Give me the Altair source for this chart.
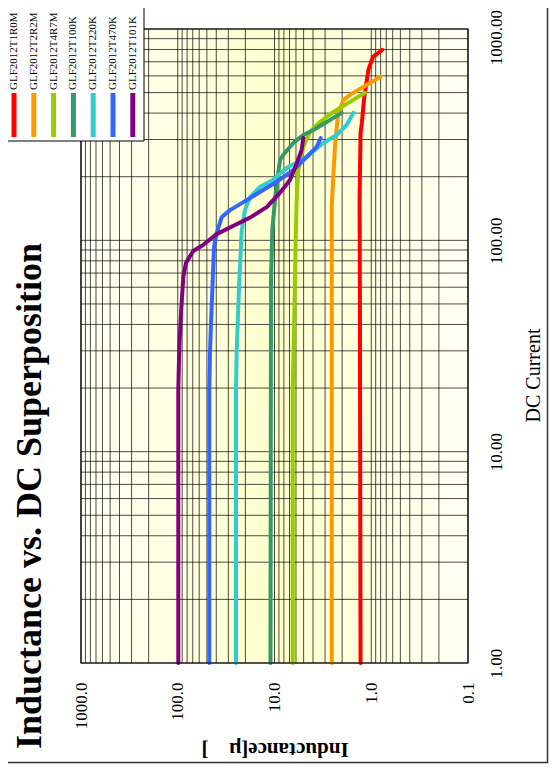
import altair as alt
import pandas as pd

# ---------------- data ----------------
series = ["GLF2012T1R0M", "GLF2012T2R2M", "GLF2012T4R7M", "GLF2012T100K",
          "GLF2012T220K", "GLF2012T470K", "GLF2012T101K"]
colors = ["#FF0000", "#FF9900", "#99CC00", "#339966", "#33CCCC", "#3366FF", "#800080"]

# DC current / inductance pairs
red_I = [1, 52.3, 155, 322, 359, 462, 544, 640, 738, 797]
red_L = [1.29, 1.31, 1.32, 1.29, 1.25, 1.19, 1.13, 1.07, 0.96, 0.77]

orange_I = [1, 144, 200, 277, 322, 401, 462, 488, 532, 593]
orange_L = [2.56, 2.56, 2.47, 2.37, 2.31, 2.19, 1.94, 1.66, 1.21, 0.81]

yg_I = [1, 19.6, 37.7, 64.9, 121, 155, 215, 277, 326, 363, 405, 452, 499]
yg_L = [6.48, 6.48, 6.29, 6.14, 5.99, 5.90, 5.68, 5.04, 4.30, 3.39, 2.47, 1.66, 1.16]

green_I = [1, 64.9, 112, 155, 193, 240, 254, 289, 315, 333, 363, 401]
green_L = [11.0, 10.87, 10.54, 9.88, 9.35, 8.77, 8.11, 6.39, 5.04, 3.97, 2.89, 2.02]

cyan_I = [1, 19.6, 29.6, 45.3, 64.9, 112, 139, 160, 179, 193, 220, 248, 289, 315, 352, 401]
cyan_L = [25.0, 25.0, 24.6, 23.8, 23.1, 21.8, 20.2, 17.9, 14.1, 10.4, 7.48, 4.65, 3.13, 2.28, 1.79, 1.53]

blue_I = [1, 19.6, 29.6, 40.6, 64.9, 93.1, 108, 129, 139, 155, 173, 191, 215, 248, 277, 305]
blue_L = [47.2, 47.2, 46.4, 45.3, 43.5, 42.2, 39.6, 35.1, 28.8, 19.4, 13.1, 9.2, 6.39, 4.65, 3.66, 3.33]

purple_I = [1, 19.6, 31.3, 45.3, 67.1, 78.2, 89.1, 95.1, 107, 117, 128, 144, 168, 193, 233, 268, 305]
purple_L = [98.7, 98.7, 96.4, 92.5, 87.6, 82.2, 69.1, 54.8, 39.6, 26.9, 17.9, 11.95, 8.77, 6.92, 5.85, 5.24, 5.04]

curves_I = [red_I, orange_I, yg_I, green_I, cyan_I, blue_I, purple_I]
curves_L = [red_L, orange_L, yg_L, green_L, cyan_L, blue_L, purple_L]

L_decades = [0.1, 1, 10, 100, 1000]     # inductance axis labels
I_decades = [1, 10, 100, 1000]          # DC current axis labels

title_text = "Inductance vs. DC Superposition"

# ---------------- tables ----------------
rows = []
for name, Is, Ls in zip(series, curves_I, curves_L):
    for k, (i_val, l_val) in enumerate(zip(Is, Ls)):
        rows.append({"series": name, "I": i_val, "L": l_val, "idx": k})
df = pd.DataFrame(rows)


def minor_ticks(decades):
    vals = []
    for d in decades[:-1]:
        for m in range(1, 10):
            vals.append(round(m * d, 6))
    vals.append(decades[-1])
    return vals


L_ticks = minor_ticks(L_decades)
I_ticks = minor_ticks(I_decades)
df_Lt = pd.DataFrame({"L": L_ticks})
df_It = pd.DataFrame({"I": I_ticks})
df_leg = pd.DataFrame({"series": series, "i": list(range(len(series)))})
one = pd.DataFrame({"t": [title_text]})

# ---------------- layout ----------------
W, H = 387, 634
FONT = "Liberation Serif"

xscale = alt.Scale(type="log", domain=[0.1, 1000], reverse=True, nice=False)
yscale = alt.Scale(type="log", domain=[1, 1000], nice=False)
cscale = alt.Scale(domain=series, range=colors)

L_list = "[" + ",".join(str(v) for v in L_decades) + "]"
I_list = "[" + ",".join(str(v) for v in I_decades) + "]"

xaxis = alt.Axis(
    values=L_ticks,
    labelExpr=f"indexof({L_list}, datum.value) >= 0 ? format(datum.value, '.1f') : ''",
    grid=False, ticks=False, tickSize=0, domain=False,
    labelAngle=270, labelAlign="right", labelBaseline="middle", labelPadding=19,
    labelFont=FONT, labelFontSize=17, labelColor="black",
    labelOverlap=False, labelFlush=False, labelBound=False,
    title="Inductance[μ\u2002\u2002]", titleFont=FONT, titleFontSize=21,
    titleFontWeight="bold", titleColor="black", titleAngle=180,
    titleX=W / 2, titleY=85, titleAlign="center", titleBaseline="middle",
)
yaxis = alt.Axis(
    orient="right",
    values=I_ticks,
    labelExpr=f"indexof({I_list}, datum.value) >= 0 ? format(datum.value, '.2f') : ''",
    grid=False, ticks=False, tickSize=0, domain=False,
    labelAngle=270, labelAlign="center", labelBaseline="top", labelPadding=20,
    labelOffset={"condition": {"test": "datum.value == 1000", "value": 8}, "value": 0},
    labelFont=FONT, labelFontSize=17, labelColor="black",
    labelOverlap=False, labelFlush=False, labelBound=False,
    title="DC Current", titleFont=FONT, titleFontSize=20, titleFontWeight="normal",
    titleColor="black", titleAngle=270, titleX=65, titleY=346,
    titleAlign="center", titleBaseline="middle",
)

background = alt.Chart(one).mark_rect(
    fill=alt.Gradient(
        gradient="linear", x1=0, x2=1, y1=0, y2=0,
        stops=[alt.GradientStop(color="#FFFFF6", offset=0),
               alt.GradientStop(color="#FFFFCC", offset=0.52),
               alt.GradientStop(color="#FFFFF6", offset=1)],
    )
).encode(x=alt.value(0), x2=alt.value(W), y=alt.value(0), y2=alt.value(H))

grid_x = alt.Chart(df_Lt).mark_rule(color="black", strokeWidth=1, opacity=0.7).encode(
    x=alt.X("L:Q", scale=xscale, axis=xaxis)
)
grid_y = alt.Chart(df_It).mark_rule(color="black", strokeWidth=1, opacity=0.7).encode(
    y=alt.Y("I:Q", scale=yscale, axis=yaxis)
)

lines = alt.Chart(df).mark_line(strokeWidth=4, strokeJoin="round", strokeCap="round").encode(
    x=alt.X("L:Q", scale=xscale, axis=xaxis),
    y=alt.Y("I:Q", scale=yscale, axis=yaxis),
    color=alt.Color("series:N", scale=cscale, legend=None),
    order=alt.Order("idx:Q"),
)

frame = alt.Chart(one).mark_rect(fillOpacity=0, stroke="black", strokeWidth=1.2).encode(
    x=alt.value(0), x2=alt.value(W), y=alt.value(0), y2=alt.value(H)
)

LEG_X = "-67 + datum.i * 19.8"
legend_box = alt.Chart(one).mark_rect(fill="white", stroke="black", strokeWidth=1).encode(
    x=alt.value(-90), x2=alt.value(63), y=alt.value(-40), y2=alt.value(112)
)
legend_rules = alt.Chart(df_leg).transform_calculate(px=LEG_X).mark_rule(strokeWidth=5).encode(
    x=alt.X("px:Q", scale=None),
    y=alt.value(64), y2=alt.value(108),
    color=alt.Color("series:N", scale=cscale, legend=None),
)
legend_text = alt.Chart(df_leg).transform_calculate(px=LEG_X).mark_text(
    angle=270, align="left", baseline="middle", font=FONT, fontSize=11, color="black"
).encode(
    x=alt.X("px:Q", scale=None),
    y=alt.value(61),
    text="series:N",
)

outer = alt.Chart(one).mark_rect(fillOpacity=0, stroke="#333333", strokeWidth=1.5).encode(
    x=alt.value(-90), x2=alt.value(466.5), y=alt.value(-40), y2=alt.value(733.5)
)

title = alt.Chart(one).mark_text(
    angle=270, align="center", baseline="alphabetic", font=FONT,
    fontSize=36, fontWeight="bold", color="black"
).encode(text="t:N", x=alt.value(-40), y=alt.value(467))

chart = alt.layer(
    background, grid_x, grid_y, lines, frame,
    legend_box, legend_rules, legend_text, outer, title
).properties(
    width=W, height=H,
    padding={"left": 73, "top": 21, "right": 81, "bottom": 101},
    autosize=alt.AutoSizeParams(type="none"),
    background="white",
).configure_view(strokeWidth=0)

chart.save("out.html", embed_options={"renderer": "svg", "actions": False})
